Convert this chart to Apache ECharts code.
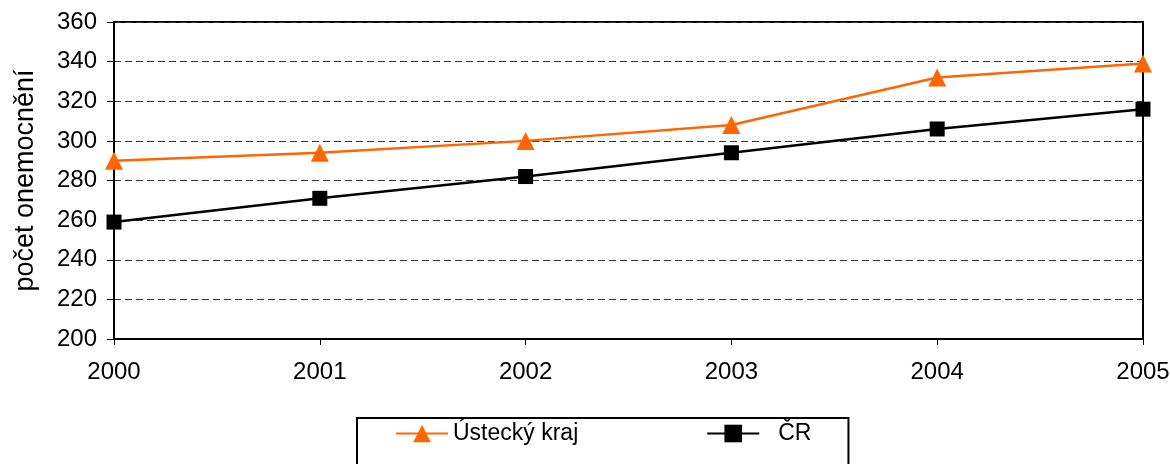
<!DOCTYPE html>
<html>
<head>
<meta charset="utf-8">
<script src="https://cdn.jsdelivr.net/npm/echarts@6/dist/echarts.min.js"></script>
<style>
  html, body { margin: 0; padding: 0; background: #fff; }
  #chart { width: 1170px; height: 464px; }
</style>
</head>
<body>
<div id="chart"></div>
<script>
const years = ['2000', '2001', '2002', '2003', '2004', '2005']
const ustecky = [290, 294, 300, 308, 332, 339]
const cr = [259, 271, 282, 294, 306, 316]
const seriesNames = ['Ústecký kraj', 'ČR']

const font = '"Liberation Sans", Arial, sans-serif'

const chart = echarts.init( document.getElementById( 'chart' ) )

chart.setOption( {
  animation : false,
  backgroundColor : '#fff',
  textStyle : { fontFamily : font },
  grid : {
    left : 114,
    right : 27,
    top : 22,
    bottom : 125,
    outerBoundsMode : 'none',
    containLabel : false,
    show : true,
    borderColor : '#000',
    borderWidth : 2
  },
  legend : {
    left : 357,
    top : 418,
    padding : [4, 37, 30, 38],
    itemGap : 128,
    itemWidth : 52,
    itemHeight : 22,
    borderColor : '#000',
    borderWidth : 2,
    textStyle : { fontSize : 23, color : '#000', fontFamily : font },
    data : [
      { name : seriesNames[0] },
      { name : seriesNames[1], textStyle : { padding : [0, 0, 0, 14] }}
    ]
  },
  xAxis : {
    type : 'category',
    data : years,
    boundaryGap : false,
    axisLine : { lineStyle : { color : '#000', width : 2 }},
    axisTick : { show : true, length : 6, lineStyle : { color : '#000' }},
    axisLabel : { fontSize : 24, color : '#000', margin : 21 },
    splitLine : { show : false }
  },
  yAxis : {
    type : 'value',
    min : 200,
    max : 360,
    interval : 20,
    name : 'počet onemocnění',
    nameLocation : 'middle',
    nameGap : 75,
    nameRotate : 90,
    nameTextStyle : { fontSize : 27, color : '#000', fontFamily : font },
    axisLine : { show : true, lineStyle : { color : '#000', width : 2 }},
    axisTick : { show : true, length : 7, lineStyle : { color : '#000' }},
    axisLabel : { fontSize : 24, color : '#000', margin : 17 },
    splitLine : { lineStyle : { color : '#333', type : [7, 4], width : 1 }}
  },
  series : [
    {
      name : seriesNames[0],
      type : 'line',
      data : ustecky,
      symbol : 'triangle',
      symbolSize : 18,
      lineStyle : { color : '#FF6600', width : 2.5 },
      itemStyle : { color : '#FF6600' }
    },
    {
      name : seriesNames[1],
      type : 'line',
      data : cr,
      symbol : 'rect',
      symbolSize : 15,
      lineStyle : { color : '#000', width : 2.5 },
      itemStyle : { color : '#000' }
    }
  ]
} )
</script>
</body>
</html>
